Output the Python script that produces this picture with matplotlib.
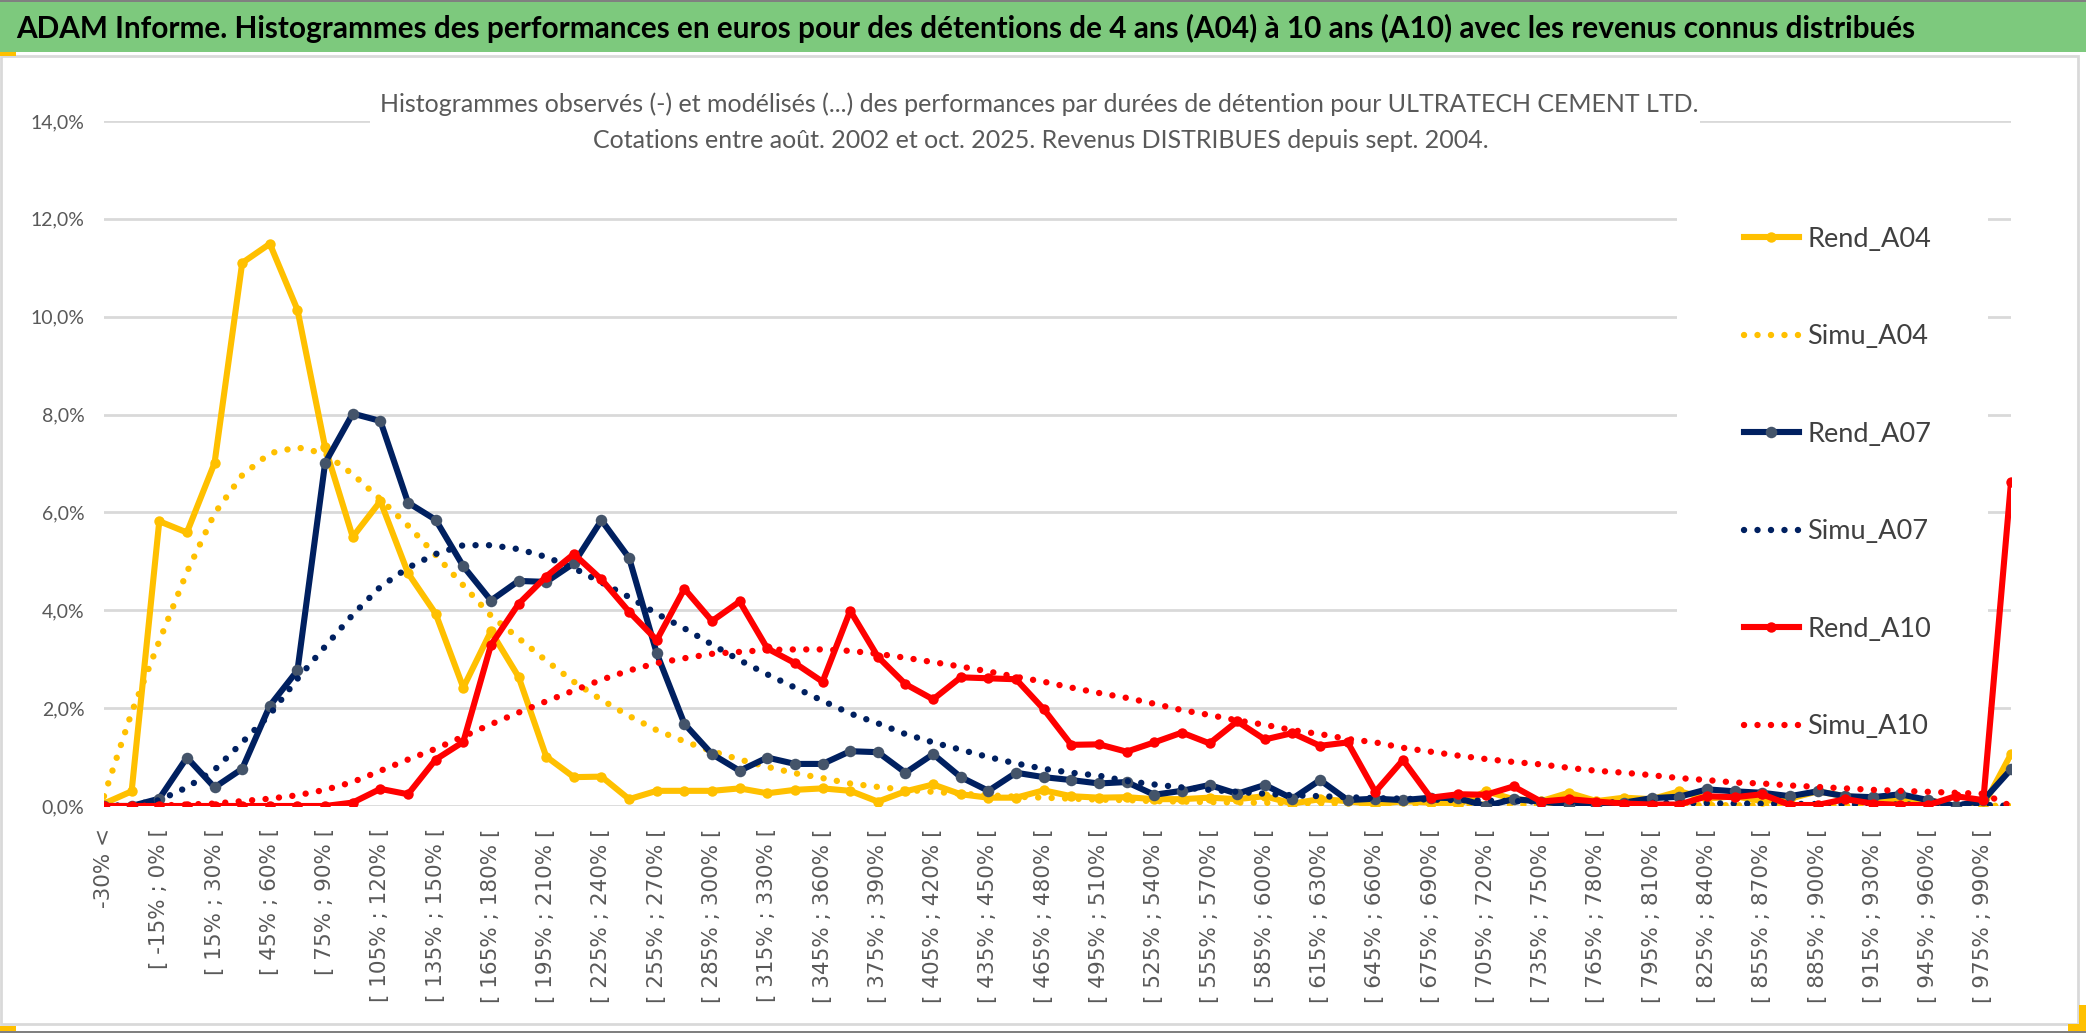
import matplotlib
matplotlib.use("Agg")
import matplotlib.pyplot as plt
from matplotlib.patches import Rectangle
from matplotlib.ticker import FixedLocator, FuncFormatter

# Catégories de performance (pas de 15 %)
categories = ["-30% <"] + [f"[ {lo}% ; {lo + 15}% [" for lo in range(-30, 990, 15)] + ["> 990%"]

# Histogrammes observés (en %)
rend_a04 = [0.05, 0.3, 5.82, 5.59, 7.01, 11.1, 11.49, 10.14, 7.33, 5.5,
            6.23, 4.76, 3.93, 2.42, 3.57, 2.64, 1.01, 0.59, 0.6, 0.14,
            0.31, 0.31, 0.31, 0.36, 0.26, 0.33, 0.36, 0.31, 0.09, 0.3,
            0.44, 0.24, 0.17, 0.17, 0.32, 0.2, 0.17, 0.18, 0.14, 0.14,
            0.17, 0.14, 0.2, 0.05, 0.14, 0.1, 0.03, 0.1, 0.07, 0.03,
            0.3, 0.14, 0.1, 0.27, 0.1, 0.17, 0.14, 0.3, 0.15, 0.2,
            0.1, 0.15, 0.3, 0.2, 0.15, 0.1, 0.12, 0.0, 0.0, 1.06]
rend_a07 = [0.0, 0.0, 0.15, 0.99, 0.38, 0.76, 2.05, 2.77, 7.01, 8.02,
            7.87, 6.2, 5.85, 4.9, 4.2, 4.6, 4.58, 4.96, 5.84, 5.07,
            3.12, 1.68, 1.06, 0.72, 0.99, 0.86, 0.86, 1.12, 1.1, 0.68,
            1.06, 0.59, 0.31, 0.68, 0.59, 0.53, 0.46, 0.49, 0.23, 0.31,
            0.43, 0.25, 0.43, 0.15, 0.53, 0.12, 0.15, 0.12, 0.17, 0.16,
            0.0, 0.14, 0.09, 0.03, 0.0, 0.07, 0.16, 0.19, 0.34, 0.3,
            0.27, 0.2, 0.3, 0.2, 0.18, 0.24, 0.12, 0.0, 0.12, 0.75]
rend_a10 = [0.0, 0.0, 0.0, 0.0, 0.0, 0.0, 0.0, 0.0, 0.0, 0.07,
            0.35, 0.24, 0.95, 1.31, 3.29, 4.13, 4.69, 5.15, 4.63, 3.97,
            3.39, 4.44, 3.78, 4.18, 3.22, 2.92, 2.54, 3.99, 3.05, 2.49,
            2.18, 2.63, 2.61, 2.59, 1.98, 1.25, 1.26, 1.11, 1.3, 1.5,
            1.28, 1.73, 1.36, 1.49, 1.23, 1.3, 0.29, 0.94, 0.17, 0.24,
            0.23, 0.4, 0.09, 0.14, 0.09, 0.05, 0.03, 0.03, 0.2, 0.18,
            0.24, 0.02, 0.02, 0.14, 0.05, 0.02, 0.02, 0.2, 0.12, 6.62]

# Histogrammes modélisés (en %)
simu_a04 = [0.2, 1.91, 3.37, 4.78, 5.98, 6.76, 7.21, 7.33, 7.2, 6.78,
            6.27, 5.73, 5.13, 4.51, 3.89, 3.43, 2.97, 2.54, 2.17, 1.84,
            1.55, 1.32, 1.12, 0.95, 0.8, 0.67, 0.57, 0.46, 0.39, 0.33,
            0.29, 0.25, 0.22, 0.19, 0.17, 0.15, 0.13, 0.12, 0.1, 0.09,
            0.08, 0.07, 0.065, 0.06, 0.055, 0.05, 0.045, 0.04, 0.037, 0.034,
            0.03, 0.028, 0.026, 0.024, 0.022, 0.02, 0.019, 0.018, 0.017, 0.016,
            0.015, 0.014, 0.013, 0.012, 0.011, 0.01, 0.01, 0.01, 0.01, 0.0]
simu_a07 = [0.0, 0.02, 0.12, 0.38, 0.74, 1.3, 1.87, 2.6, 3.26, 3.91,
            4.48, 4.87, 5.15, 5.33, 5.33, 5.25, 5.09, 4.86, 4.57, 4.27,
            3.93, 3.63, 3.3, 2.98, 2.69, 2.42, 2.15, 1.89, 1.69, 1.47,
            1.3, 1.15, 1.0, 0.87, 0.76, 0.68, 0.62, 0.51, 0.44, 0.38,
            0.33, 0.29, 0.25, 0.22, 0.2, 0.18, 0.16, 0.15, 0.13, 0.12,
            0.11, 0.1, 0.09, 0.085, 0.08, 0.07, 0.065, 0.06, 0.055, 0.05,
            0.047, 0.044, 0.04, 0.037, 0.034, 0.031, 0.028, 0.026, 0.024, 0.0]
simu_a10 = [0.0, 0.0, 0.01, 0.03, 0.05, 0.1, 0.15, 0.22, 0.33, 0.49,
            0.72, 0.95, 1.17, 1.42, 1.67, 1.91, 2.14, 2.36, 2.58, 2.77,
            2.92, 3.02, 3.11, 3.15, 3.19, 3.2, 3.2, 3.17, 3.11, 3.03,
            2.94, 2.85, 2.75, 2.64, 2.54, 2.42, 2.31, 2.21, 2.09, 1.96,
            1.86, 1.75, 1.66, 1.55, 1.47, 1.37, 1.3, 1.19, 1.11, 1.03,
            0.96, 0.9, 0.85, 0.78, 0.72, 0.68, 0.63, 0.57, 0.53, 0.48,
            0.46, 0.42, 0.39, 0.36, 0.33, 0.31, 0.29, 0.27, 0.25, 0.0]

TITLE = ("ADAM Informe. Histogrammes des performances en euros pour des détentions "
         "de 4 ans (A04) à 10 ans (A10) avec les revenus connus distribués")
SUBTITLE_1 = ("Histogrammes observés (-) et modélisés (...) des performances par durées "
              "de détention pour ULTRATECH CEMENT LTD.")
SUBTITLE_2 = "Cotations entre août. 2002 et oct. 2025. Revenus DISTRIBUES depuis sept. 2004."

YELLOW = "#FFC000"
NAVY = "#002060"
NAVY_MARKER = "#44546A"
RED = "#FF0000"
GREEN = "#7DC97D"
GRID = "#D9D9D9"
TEXT = "#595959"

SANS = ["Lato", "DejaVu Sans"]
DOTS = (0, (0.01, 2.1))

W, H = 2086, 1033


def fx(px):
    return px / W


def fy(py):
    return 1 - py / H


def fit_width(text, target_px, renderer, vertical=False):
    # ajuste la taille de police pour retrouver la largeur mesurée sur l'original
    bb = text.get_window_extent(renderer)
    size = bb.height if vertical else bb.width
    text.set_fontsize(text.get_fontsize() * target_px / size)
    return text.get_fontsize()


fig = plt.figure(figsize=(W / 100, H / 100), dpi=100)
renderer = fig.canvas.get_renderer()

# bandeau vert du titre
fig.add_artist(Rectangle((0, fy(52)), 1, 50 / H, transform=fig.transFigure,
                         facecolor=GREEN, edgecolor="none", zorder=0))
fig.add_artist(Rectangle((0, fy(2)), 1, 2 / H, transform=fig.transFigure,
                         facecolor="#808080", edgecolor="none", zorder=0))
fig.add_artist(Rectangle((fx(1), fy(1024)), fx(2077), (1024 - 56) / H, transform=fig.transFigure,
                         facecolor="none", edgecolor=GRID, linewidth=2, zorder=0))
fig.add_artist(Rectangle((0, 0), 1, 2 / H, transform=fig.transFigure,
                         facecolor="#808080", edgecolor="none", zorder=0))
# poignées jaunes de sélection
for x0, y0, w, h in [(0, 52, 16, 4), (0, 1026, 16, 5), (2079, 1005, 7, 26), (2068, 1024, 18, 7)]:
    fig.add_artist(Rectangle((fx(x0), fy(y0 + h)), w / W, h / H, transform=fig.transFigure,
                             facecolor=YELLOW, edgecolor="none", zorder=0))

title = fig.text(fx(16), fy(28), TITLE, family=SANS, fontweight="bold", fontsize=21,
                 color="black", ha="left", va="center")
fit_width(title, 1897, renderer)

ax = fig.add_axes([fx(104), fy(806), fx(2011 - 104), (806 - 121) / H])
ax.set_axisbelow(True)
for spine in ax.spines.values():
    spine.set_visible(False)

x = list(range(len(categories)))

ax.plot(x, rend_a04, color=YELLOW, linewidth=4.4, marker="o", markersize=7.5,
        markeredgewidth=0, label="Rend_A04", zorder=3)
ax.plot(x, simu_a04, color=YELLOW, linewidth=4.6, linestyle=DOTS,
        dash_capstyle="round", label="Simu_A04", zorder=3)
ax.plot(x, rend_a07, color=NAVY, linewidth=4.4, marker="o", markersize=8.3,
        markerfacecolor=NAVY_MARKER, markeredgewidth=0, label="Rend_A07", zorder=3)
ax.plot(x, simu_a07, color=NAVY, linewidth=4.6, linestyle=DOTS,
        dash_capstyle="round", label="Simu_A07", zorder=3)
ax.plot(x, rend_a10, color=RED, linewidth=4.4, marker="o", markersize=7.5,
        markeredgewidth=0, label="Rend_A10", zorder=3)
ax.plot(x, simu_a10, color=RED, linewidth=4.6, linestyle=DOTS,
        dash_capstyle="round", label="Simu_A10", zorder=3)

ax.set_xlim(0, len(categories) - 1)
ax.set_ylim(0, 14)

ax.set_xticks(x[::2])
ax.set_xticklabels(categories[::2], rotation=90, fontsize=12.5, color=TEXT,
                   family="DejaVu Sans")
ax.xaxis.set_minor_locator(FixedLocator(x[::4]))
ax.tick_params(axis="x", which="both", length=0, pad=16)
ax.grid(axis="x", which="minor", color=GRID, linewidth=2)

ax.set_yticks(range(0, 15, 2))
ax.yaxis.set_major_formatter(FuncFormatter(lambda v, _: f"{v:.1f}%".replace(".", ",")))
ax.tick_params(axis="y", length=0, pad=14, labelsize=14, labelcolor=TEXT)
for lab in ax.get_yticklabels():
    lab.set_family(SANS)
ax.grid(axis="y", which="major", color=GRID, linewidth=2)

# taille des étiquettes de l'axe des catégories, calée sur "[ 105% ; 120% ["
xlabels = ax.get_xticklabels()
xsize = fit_width(xlabels[8], 174, renderer, vertical=True)
for lab in xlabels:
    lab.set_fontsize(xsize)

# fonds blancs du titre du graphique et de la légende (masquent la grille)
ax.add_patch(Rectangle((fx(370), fy(166)), fx(1700 - 370), 52 / H, transform=fig.transFigure,
                       facecolor="white", edgecolor="none", zorder=1.5))
ax.add_patch(Rectangle((fx(1677), fy(760)), fx(1988 - 1677), (760 - 207) / H,
                       transform=fig.transFigure, facecolor="white", edgecolor="none", zorder=1.5))

sub1 = fig.text(fx(1039), fy(104), SUBTITLE_1, family=SANS, fontsize=18, color=TEXT,
                ha="center", va="center", zorder=5)
sub2 = fig.text(fx(1041), fy(141), SUBTITLE_2, family=SANS, fontsize=18, color=TEXT,
                ha="center", va="center", zorder=5)
fit_width(sub1, 1321, renderer)
sub2.set_fontsize(sub1.get_fontsize())

leg = ax.legend(loc="upper left", bbox_to_anchor=(fx(1730), fy(213)),
                bbox_transform=fig.transFigure, frameon=False, fontsize=19.5,
                handlelength=2.05, handletextpad=0.3, labelspacing=2.68, borderpad=0)
for t in leg.get_texts():
    t.set_family(SANS)
    t.set_color("#404040")

fig.savefig("out.png", dpi=100)
plt.close(fig)
